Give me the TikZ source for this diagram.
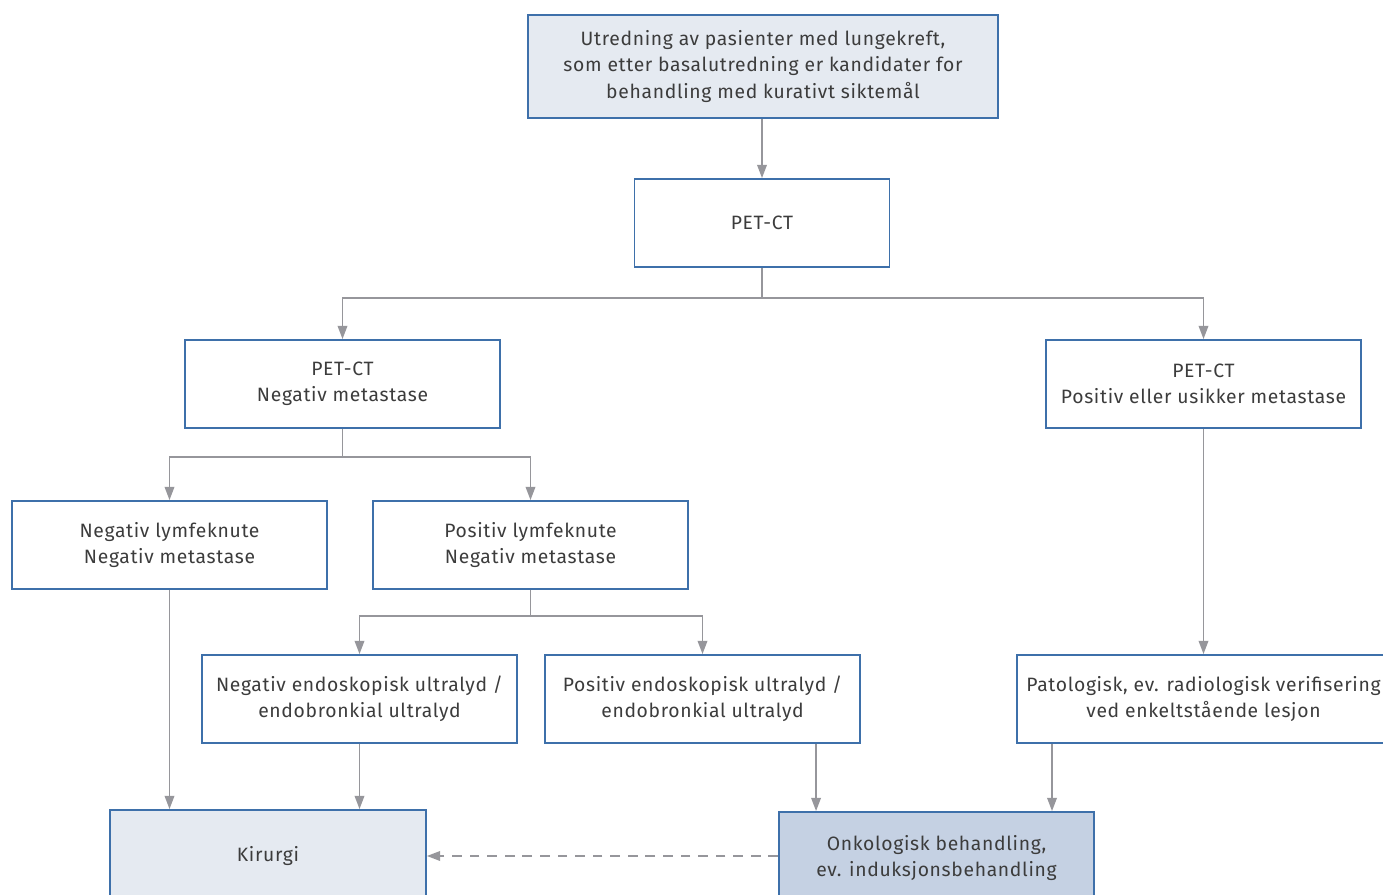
\documentclass[tikz,border=0pt]{standalone}
\usepackage{fontspec}
\setmainfont[LetterSpace=3.5]{Fira Sans}
\usetikzlibrary{arrows.meta}

\definecolor{boxblue}{RGB}{62,112,170}
\definecolor{linegray}{RGB}{150,150,155}
\definecolor{lightfill}{RGB}{229,234,241}
\definecolor{darkfill}{RGB}{197,209,227}
\definecolor{txtgray}{RGB}{60,60,60}

\tikzset{
	box/.style={draw=boxblue, line width=1.1pt, align=center, text=txtgray,
		font=\fontsize{11}{15}\selectfont, inner sep=0pt,
		minimum width=6.3cm, minimum height=1.76cm},
	conn/.style={draw=linegray, line width=0.8pt},
	arr/.style={conn, -{Triangle[width=5.5pt,length=7.5pt]}},
}

\begin{document}
\begin{tikzpicture}[x=0.02cm, y=-0.02cm]

		\clip (0,0) rectangle (1383,895);

		\node [box, fill=lightfill, minimum width=9.4cm, minimum height=2.06cm] (start) at (763,66.5)
			{Utredning av pasienter med lungekreft,\\som etter basalutredning er kandidater for\\behandling med kurativt siktemål};
		\node [box, minimum width=5.1cm]		(petct)		at (762,223)	{PET-CT};
		\node [box]		(petneg)	at (342.5,384)	{PET-CT\\Negativ metastase};
		\node [box]		(petpos)	at (1203.5,384)	{PET-CT\\Positiv eller usikker metastase};
		\node [box]		(neglymf)	at (169.5,545)	{Negativ lymfeknute\\Negativ metastase};
		\node [box]		(poslymf)	at (530.5,545)	{Positiv lymfeknute\\Negativ metastase};
		\node [box]		(negendo)	at (359.5,699)	{Negativ endoskopisk ultralyd /\\endobronkial ultralyd};
		\node [box]		(posendo)	at (702.5,699)	{Positiv endoskopisk ultralyd /\\endobronkial ultralyd};
		\node [box, minimum width=7.46cm]		(pato)		at (1203.5,699)	{Patologisk, ev. radiologisk verifisering\\ved enkeltstående lesjon};
		\node [box, fill=lightfill, minimum width=6.32cm, minimum height=1.84cm]	(kirurgi)	at (268,856)	{Kirurgi};
		\node [box, fill=darkfill, minimum height=1.84cm]		(onko)		at (936.5,858)	{Onkologisk behandling,\\ev. induksjonsbehandling};

		\coordinate (split1) at (762,298);
		\coordinate (split2) at (342.5,457);
		\coordinate (split3) at (530.5,616);
		\coordinate (onkoin1) at ([xshift=0.76cm]onko.north west);
		\coordinate (onkoin2) at ([xshift=5.48cm]onko.north west);

		\draw [arr]		(start.south -| petct) -- (petct);
		\draw [conn]	(petct) -- (split1);
		\draw [arr]		(split1) -| (petneg.north);
		\draw [arr]		(split1) -| (petpos.north);
		\draw [conn]	(petneg) -- (split2);
		\draw [arr]		(split2) -| (neglymf.north);
		\draw [arr]		(split2) -| (poslymf.north);
		\draw [conn]	(poslymf) -- (split3);
		\draw [arr]		(split3) -| (negendo.north);
		\draw [arr]		(split3) -| (posendo.north);
		\draw [arr]		(petpos) -- (pato);
		\draw [arr]		(neglymf.south) -- (neglymf.south |- kirurgi.north);
		\draw [arr]		(negendo.south) -- (negendo.south |- kirurgi.north);
		\draw [arr]		(onkoin1 |- posendo.south) -- (onkoin1);
		\draw [arr]		(onkoin2 |- pato.south) -- (onkoin2);
		\draw [arr, dash pattern=on 5.5pt off 4.5pt]	(onko.west |- kirurgi.east) -- (kirurgi.east);

	\end{tikzpicture}
\end{document}
